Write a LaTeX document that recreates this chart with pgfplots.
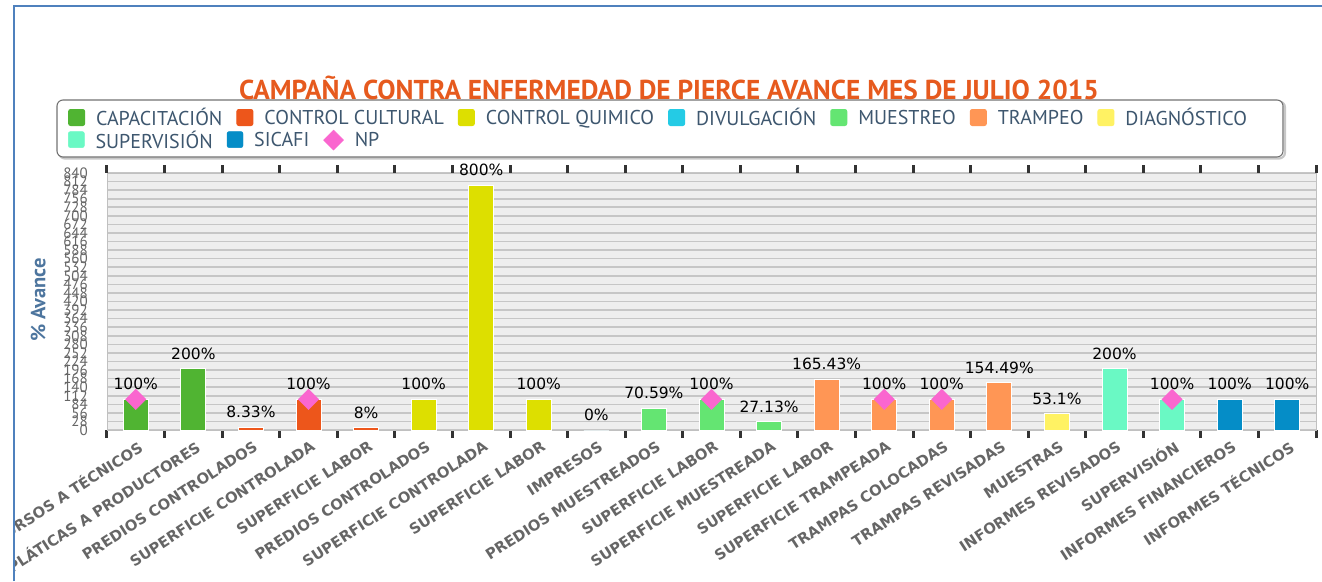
\documentclass[border=0pt]{standalone}
\usepackage{pgfplots}
\pgfplotsset{compat=1.18}
\usepackage{fontspec}
\setmainfont{DejaVu Sans}
\newfontfamily\ptsans{PT Sans}
\definecolor{capC}{HTML}{50B432}
\definecolor{ccC}{HTML}{ED561B}
\definecolor{cqC}{HTML}{DDDF00}
\definecolor{divC}{HTML}{24CBE5}
\definecolor{mueC}{HTML}{64E572}
\definecolor{traC}{HTML}{FF9655}
\definecolor{diagC}{HTML}{FFF263}
\definecolor{supC}{HTML}{6AF9C4}
\definecolor{sicC}{HTML}{058DC7}
\definecolor{npC}{HTML}{FA66CF}
\definecolor{plotbg}{HTML}{EEEEEE}
\definecolor{gridgray}{HTML}{C6C6C6}
\definecolor{bordergray}{HTML}{C0C0C0}
\definecolor{tickgray}{HTML}{666666}
\definecolor{labgray}{HTML}{666666}
\definecolor{tickdark}{HTML}{333333}
\definecolor{legtext}{HTML}{3E576F}
\definecolor{titleC}{HTML}{E65A1E}
\definecolor{ylabC}{HTML}{4D759E}
\definecolor{frameC}{HTML}{4F81BD}
\pgfplotsset{
  sq/.style={legend image code/.code={\fill[#1,rounded corners=2pt] (0pt,-7.5pt) rectangle (16pt,8.5pt);}},
  npleg/.style={legend image code/.code={\fill[npC] (8pt,0pt) -- (18pt,10pt) -- (28pt,0pt) -- (18pt,-10pt) -- cycle;}},
  bars/.style={ybar, bar width=25pt, bar shift=0pt, fill=#1, draw=white, line width=1pt,
    nodes near coords, point meta=explicit symbolic, sq=#1},
  mylegend/.style={legend style={at={(-0.0323,#1)}, anchor=west, draw=none, fill=none, inner sep=0pt,
    font=\ptsans\fontsize{20}{20}\selectfont, text=legtext,
    nodes={inner sep=0pt, anchor=west},
    /tikz/every even column/.append style={column sep=14pt},
    /tikz/every odd column/.append style={column sep=11pt}},
    legend columns=-1, legend cell align=left},
}
\begin{document}
\begin{tikzpicture}[x=1pt,y=1pt]
\path[use as bounding box] (0,0) rectangle (1322,581);
\draw[black!22, line width=2.2pt, rounded corners=6pt] (59,422.5) rectangle (1285,479.5);
\draw[black!55, line width=1.1pt, rounded corners=6pt, fill=white] (57,424) rectangle (1283,481);
\node[font=\ptsans\bfseries\fontsize{27.3}{27.3}\selectfont, text=titleC] at (669,493) {CAMPAÑA CONTRA ENFERMEDAD DE PIERCE AVANCE MES DE JULIO 2015};
\begin{axis}[
  at={(107pt,151pt)}, anchor=south west,
  scale only axis, width=1209pt, height=257pt,
  xmin=-0.5, xmax=20.5, ymin=0, ymax=840,
  clip=false,
  axis background/.style={fill=plotbg},
  axis line style={draw=bordergray, line width=0.8pt},
  ymajorgrids, grid style={draw=gridgray, line width=1.6pt},
  ytick={0,28,...,840},
  yticklabel style={font=\ptsans\fontsize{15}{15}\selectfont, text=tickgray, anchor=east, inner sep=0pt, xshift=-19pt},
  /pgf/number format/assume math mode=true,
  xtick={0,...,20},
  xticklabels={CURSOS A TÉCNICOS, PLÁTICAS A PRODUCTORES, PREDIOS CONTROLADOS, SUPERFICIE CONTROLADA, SUPERFICIE LABOR, PREDIOS CONTROLADOS, SUPERFICIE CONTROLADA, SUPERFICIE LABOR, IMPRESOS, PREDIOS MUESTREADOS, SUPERFICIE LABOR, SUPERFICIE MUESTREADA, SUPERFICIE LABOR, SUPERFICIE TRAMPEADA, TRAMPAS COLOCADAS, TRAMPAS REVISADAS, MUESTRAS, INFORMES REVISADOS, SUPERVISIÓN, INFORMES FINANCIEROS, INFORMES TÉCNICOS},
  xticklabel style={font=\bfseries\fontsize{14.8}{14.8}\selectfont, text=labgray, rotate=33, anchor=east, inner sep=0pt, xshift=-4pt, yshift=-15pt},
  major tick length=0pt,
  minor xtick={-0.5,0.5,...,20.5},
  minor tick length=8pt,
  tick align=outside,
  minor tick style={draw=tickdark, line width=3pt},
  ylabel={\% Avance},
  ylabel style={font=\ptsans\bfseries\fontsize{20.5}{20.5}\selectfont, text=ylabC, at={(axis description cs:-0.057,0.506)}, anchor=center},
  every node near coord/.append style={font=\fontsize{15.5}{15.5}\selectfont, text=black, anchor=base, inner sep=0pt, yshift=9.5pt},
  mylegend=1.214,
]
\addplot[bars=capC] coordinates {(0,100) [100\%] (1,200) [200\%]};
\addlegendentry{CAPACITACIÓN}
\addplot[bars=ccC] coordinates {(2,8.33) [8.33\%] (3,100) [100\%] (4,8) [8\%]};
\addlegendentry{CONTROL CULTURAL}
\addplot[bars=cqC] coordinates {(5,100) [100\%] (6,800) [800\%] (7,100) [100\%]};
\addlegendentry{CONTROL QUIMICO}
\addplot[bars=divC] coordinates {(8,0) [0\%]};
\addlegendentry{DIVULGACIÓN}
\addplot[bars=mueC] coordinates {(9,70.59) [70.59\%] (10,100) [100\%] (11,27.13) [27.13\%]};
\addlegendentry{MUESTREO}
\addplot[bars=traC] coordinates {(12,165.43) [165.43\%] (13,100) [100\%] (14,100) [100\%] (15,154.49) [154.49\%]};
\addlegendentry{TRAMPEO}
\addplot[bars=diagC] coordinates {(16,53.1) [53.1\%]};
\addlegendentry{DIAGNÓSTICO}
\addplot[bars=supC] coordinates {(17,200) [200\%] (18,100) [100\%]};
\addplot[bars=sicC] coordinates {(19,100) [100\%] (20,100) [100\%]};
\addplot[only marks, mark=square*, mark size=7.2pt, mark options={rotate=45, draw=npC, fill=npC}] coordinates {(0,100) (3,100) (10,100) (13,100) (14,100) (18,100)};
\end{axis}
\begin{axis}[
  at={(107pt,151pt)}, anchor=south west,
  scale only axis, width=1209pt, height=257pt,
  hide axis, xmin=0, xmax=1, ymin=0, ymax=1,
  mylegend=1.128,
]
\addlegendimage{sq=supC}
\addlegendentry{SUPERVISIÓN}
\addlegendimage{sq=sicC}
\addlegendentry{SICAFI}
\addlegendimage{npleg}
\addlegendentry{NP}
\end{axis}
\fill[white] (0,0) rectangle (13.3,581);
\draw[frameC, line width=1.5pt] (14,0) -- (14,575) -- (1322,575);
\end{tikzpicture}
\end{document}
